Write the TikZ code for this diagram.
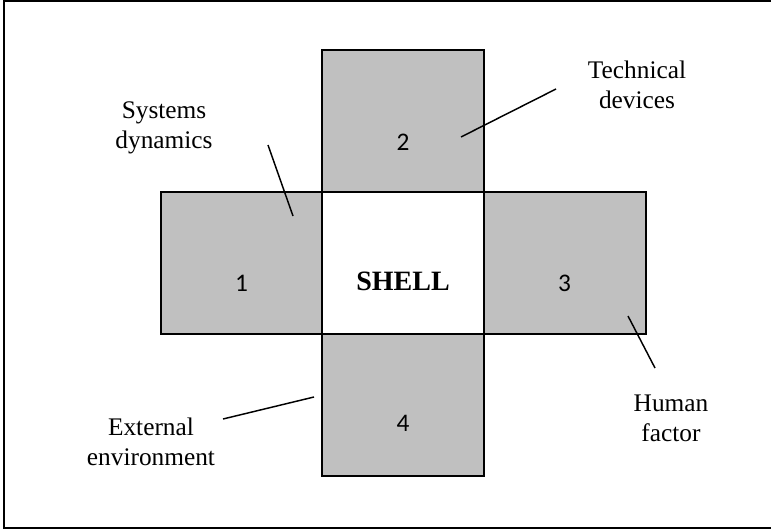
\documentclass[tikz,border=0pt]{standalone}
\usepackage{fontspec}
\setmainfont{Liberation Serif}
\newfontfamily\numfont{Carlito}
\usepackage{xcolor}
\usetikzlibrary{positioning,calc}
\definecolor{shellgrey}{RGB}{192,192,192}

\begin{document}
\begin{tikzpicture}[x=0.75pt, y=-0.75pt, every node/.style={font=\fontsize{19}{22.5}\selectfont}]
  \tikzset{
    cell/.style={draw, line width=1.5pt, minimum width=121.5pt, minimum height=106.5pt, inner sep=0pt},
    num/.style={font=\numfont\fontsize{19}{22}\selectfont},
    tag/.style={align=center},
    lead/.style={line width=1.1pt}
  }
  \useasboundingbox (0,0) rectangle (771,529);
  \draw[line width=1.5pt] (4,1) rectangle (780,528);

  % Cross of cells around the centre
  \node[cell, fill=shellgrey] (c2) at (403,121)   {};
  \node[cell, fill=shellgrey] (c1) at (241.5,263) {};
  \node[cell, fill=shellgrey] (c3) at (564.5,263) {};
  \node[cell, fill=shellgrey] (c4) at (403,405)   {};
  \node[cell, fill=white]     (c0) at (403,263)   {};

  \node[font=\fontsize{21}{24}\selectfont\bfseries] at ([yshift=-14pt]c0) {SHELL};
  \node[num] at ([yshift=-15pt]c1) {1};
  \node[num] at ([yshift=-16pt]c2) {2};
  \node[num] at ([yshift=-15pt]c3) {3};
  \node[num] at ([yshift=-14pt]c4) {4};

  % Labels and their leader lines
  \node[tag] (sd) at (164,128) {Systems\\dynamics};
  \node[tag] (td) at (637,85)  {Technical\\devices};
  \node[tag] (hf) at (671,418) {Human\\factor};
  \node[tag] (ee) at (151,442) {External\\environment};

  \coordinate (sd-a) at (268,145); \coordinate (sd-b) at (293,216);
  \coordinate (td-a) at (556,89);  \coordinate (td-b) at (461,137);
  \coordinate (hf-a) at (655,368); \coordinate (hf-b) at (628,316);
  \coordinate (ee-a) at (223,419); \coordinate (ee-b) at (314,397);

  \draw[lead] (sd-a) -- (sd-b);
  \draw[lead] (td-a) -- (td-b);
  \draw[lead] (hf-a) -- (hf-b);
  \draw[lead] (ee-a) -- (ee-b);
\end{tikzpicture}
\end{document}
